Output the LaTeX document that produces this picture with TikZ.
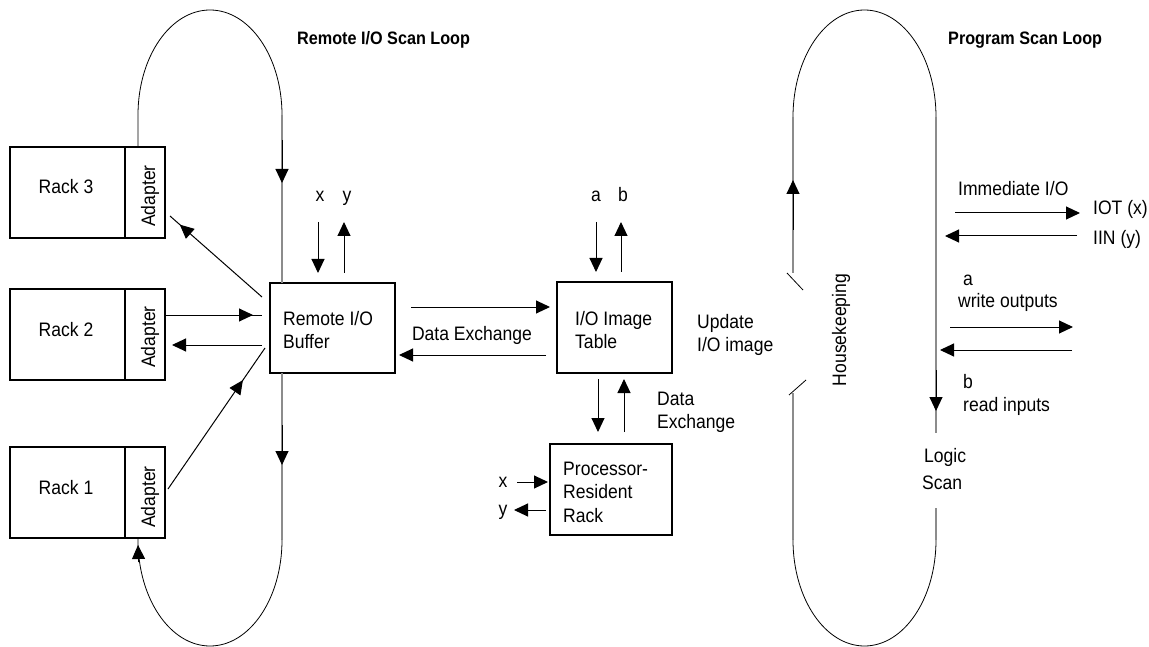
\documentclass[tikz,border=0pt]{standalone}
\usepackage{fontspec}
\setmainfont{Liberation Sans}[FakeStretch=0.9]
\usetikzlibrary{arrows.meta,decorations.markings}
\begin{document}
\begin{tikzpicture}[x=1pt,y=-1pt,
  box/.style={draw,line width=1.1pt,outer sep=0pt,inner sep=0pt,rectangle,anchor=north west},
  txt/.style={font=\fontsize{19.5}{23.5}\selectfont,inner sep=0pt,anchor=base west},
  ctxt/.style={font=\fontsize{19.5}{23.5}\selectfont,inner sep=0pt,anchor=base},
  ttl/.style={font=\fontsize{18}{22}\selectfont\bfseries,inner sep=0pt,anchor=base west},
  arr/.style={line width=1pt,-{Triangle[length=14pt,width=13pt]}},
  tipback/.style={line width=1pt,postaction={decorate},
    decoration={markings,mark=at position #1 with {\arrow{Triangle[length=14pt,width=13pt]}}}},
  scanline/.style={draw=black!45,line width=1.4pt},
  scanarc/.style={line width=0.8pt},
  slash/.style={line width=0.8pt}]

\useasboundingbox (0,0) rectangle (1149,647);

% ---------- titles ----------
\node[ttl] (rtitle) at (297,45) {Remote I/O Scan Loop};
\node[ttl] (ptitle) at (948,45) {Program Scan Loop};

% ---------- remote racks ----------
\node[box,minimum width=115pt,minimum height=91pt] (rack3) at (10,147) {};
\node[box,minimum width=40pt,minimum height=91pt] (adp3) at (125,147) {};
\node[box,minimum width=115pt,minimum height=91pt] (rack2) at (10,289) {};
\node[box,minimum width=40pt,minimum height=91pt] (adp2) at (125,289) {};
\node[box,minimum width=115pt,minimum height=91pt] (rack1) at (10,447) {};
\node[box,minimum width=40pt,minimum height=91pt] (adp1) at (125,447) {};

\node[ctxt] (rack3t) at (66,194) {Rack 3};
\node[ctxt] (rack2t) at (66,336) {Rack 2};
\node[ctxt] (rack1t) at (66,494) {Rack 1};
\node[ctxt,rotate=90] (adp3t) at (155,196) {Adapter};
\node[ctxt,rotate=90] (adp2t) at (155,337) {Adapter};
\node[ctxt,rotate=90] (adp1t) at (155,497) {Adapter};

% ---------- central boxes ----------
\node[box,minimum width=125pt,minimum height=90pt] (buf) at (270,283) {};
\node[txt] (buft1) at (283,325) {Remote I/O};
\node[txt] (buft2) at (283,348) {Buffer};

\node[box,minimum width=115pt,minimum height=91pt] (tab) at (557,282) {};
\node[txt] (tabt1) at (575,325) {I/O Image};
\node[txt] (tabt2) at (575,348) {Table};

\node[box,minimum width=122pt,minimum height=91pt] (prr) at (550,444) {};
\node[txt] (prrt1) at (563,475) {Processor-};
\node[txt] (prrt2) at (563,498) {Resident};
\node[txt] (prrt3) at (563,522) {Rack};

% ---------- remote I/O scan loop ----------
\draw[scanarc] (rack3.north east -| adp3.center) ++(-7,0) coordinate (l3top)
  -- (138,115) arc[start angle=180,end angle=360,x radius=72,y radius=105] coordinate (ltopR);
\draw[scanline] (ltopR) -- (buf.north -| ltopR);
\draw[arr] (282,140) -- (282,183);
\coordinate (lbotR) at (282,540);
\draw[scanline] (buf.south -| lbotR) -- (lbotR);
\draw[arr] (282,425) -- (282,465);
\draw[scanarc] (lbotR) arc[start angle=0,end angle=180,x radius=72,y radius=106] -- (138,538);
\draw[arr] (138.6,562) -- (138,545);

% rack <-> buffer connectors
\coordinate (b3out) at (262,297);  \coordinate (r3in) at (170,216);
\coordinate (r2out) at (165,315);  \coordinate (b2in) at (262,315);
\coordinate (b2out) at (262,345);  \coordinate (r2in) at (172,345);
\coordinate (r1out) at (168,489);  \coordinate (b1in) at (265,348);
\draw[tipback=-13pt] (b3out) -- (r3in);
\draw[tipback=-9pt] (r2out) -- (b2in);
\draw[arr] (b2out) -- (r2in);
\draw[tipback=-39pt] (r1out) -- (b1in);

% x / y at the buffer
\node[ctxt] (bx) at (320,202) {x};
\node[ctxt] (by) at (347,202) {y};
\coordinate (bxs) at (318,222); \coordinate (bxe) at (318,273);
\coordinate (bys) at (344,273); \coordinate (bye) at (344,222);
\draw[arr] (bxs) -- (bxe);
\draw[arr] (bys) -- (bye);

% buffer <-> image table
\coordinate (dx1s) at (411,307); \coordinate (dx1e) at (550,307);
\coordinate (dx2s) at (546,355); \coordinate (dx2e) at (399,355);
\draw[arr] (dx1s) -- (dx1e);
\draw[arr] (dx2s) -- (dx2e);
\node[ctxt] (dxt) at (472,340) {Data Exchange};

% a / b at the image table
\node[ctxt] (ta) at (596,202) {a};
\node[ctxt] (tb) at (623,202) {b};
\coordinate (tas) at (596,222); \coordinate (tae) at (596,272);
\coordinate (tbs) at (621,272); \coordinate (tbe) at (621,222);
\draw[arr] (tas) -- (tae);
\draw[arr] (tbs) -- (tbe);

\node[txt] (upd1) at (697,328) {Update};
\node[txt] (upd2) at (697,351) {I/O image};

% image table <-> processor-resident rack
\coordinate (pds) at (598,379); \coordinate (pde) at (598,432);
\coordinate (pus) at (624,432); \coordinate (pue) at (624,379);
\draw[arr] (pds) -- (pde);
\draw[arr] (pus) -- (pue);
\node[txt] (pdx1) at (657,405) {Data};
\node[txt] (pdx2) at (657,428) {Exchange};

% x / y at the processor-resident rack
\node[ctxt] (px) at (503,487) {x};
\node[ctxt] (py) at (503,515) {y};
\coordinate (pxs) at (517,482); \coordinate (pxe) at (548,482);
\coordinate (pys) at (546,510); \coordinate (pye) at (514,510);
\draw[arr] (pxs) -- (pxe);
\draw[arr] (pys) -- (pye);

% ---------- program scan loop ----------
\draw[scanarc] (793,117) arc[start angle=180,end angle=360,x radius=71.5,y radius=107];
\draw[scanline] (793,117) -- (793,273);
\draw[arr] (793,230) -- (793,180);
\draw[slash] (787,273) -- (803,290);
\draw[slash] (789,395) -- (806,380);
\draw[scanline] (793,393) -- (793,540);
\draw[scanarc] (936,540) arc[start angle=0,end angle=180,x radius=71.5,y radius=106];
\draw[scanline] (936,117) -- (936,433);
\draw[arr] (936,370) -- (936,411);
\draw[scanline] (936,508) -- (936,540);

\node[ctxt,rotate=90] (hk) at (846,330) {Housekeeping};
\node[txt] (ls1) at (924,462) {Logic};
\node[txt] (ls2) at (922,489) {Scan};

% immediate I/O and output/input transfers
\node[txt] (imm) at (958,196) {Immediate I/O};
\node[txt] (iot) at (1093,215) {IOT (x)};
\node[txt] (iin) at (1093,244) {IIN (y)};
\coordinate (i1s) at (955,213);  \coordinate (i1e) at (1080,213);
\coordinate (i2s) at (1077,236); \coordinate (i2e) at (945,236);
\draw[arr] (i1s) -- (i1e);
\draw[arr] (i2s) -- (i2e);

\node[txt] (wa) at (963,285) {a};
\node[txt] (wo) at (958,308) {write outputs};
\coordinate (w1s) at (950,327);  \coordinate (w1e) at (1073,327);
\coordinate (w2s) at (1072,350); \coordinate (w2e) at (940,350);
\draw[arr] (w1s) -- (w1e);
\draw[arr] (w2s) -- (w2e);
\node[txt] (rb) at (963,388) {b};
\node[txt] (ri) at (963,411) {read inputs};
\end{tikzpicture}
\end{document}
